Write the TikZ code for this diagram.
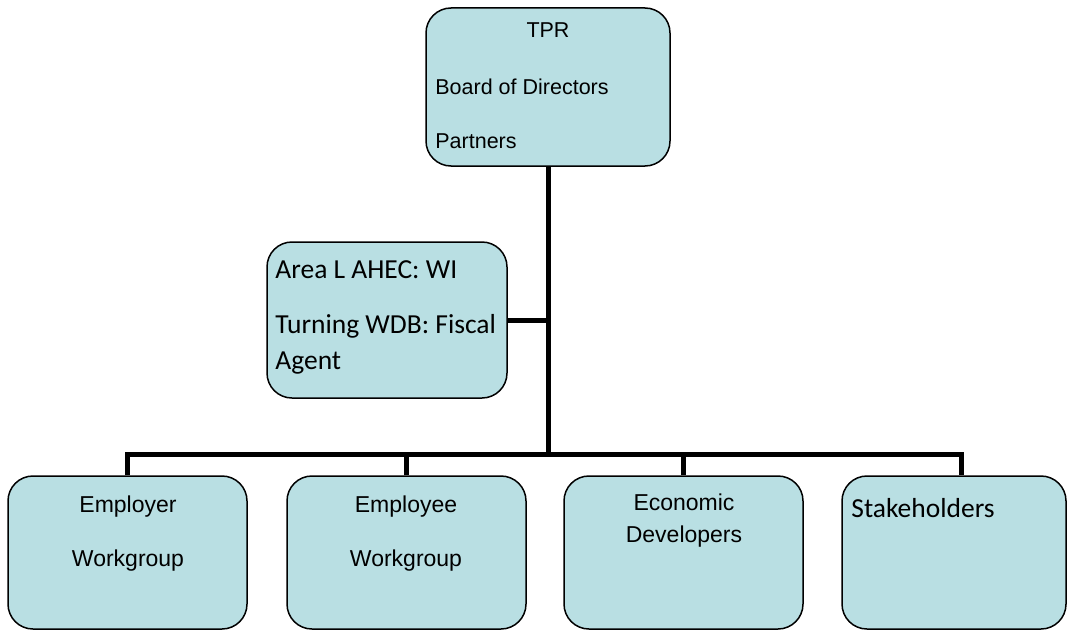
\documentclass[tikz,border=0pt]{standalone}
\usepackage{fontspec}
\setmainfont{Liberation Sans}
\newfontfamily\calibri{Carlito}
\usepackage{tikz}
\usetikzlibrary{positioning,calc}
\definecolor{boxcyan}{RGB}{185,223,227}

\begin{document}
\begin{tikzpicture}[x=0.5pt,y=-0.5pt,
          box/.style={draw,line width=0.75pt,rounded corners=12.5pt,fill=boxcyan,
                      minimum width=119.5pt,minimum height=76.5pt,inner sep=0pt},
          txt/.style={inner sep=0pt,font=\fontsize{11.5}{13}\selectfont},
          toptxt/.style={inner sep=0pt,font=\fontsize{10.75}{12}\selectfont},
          ctxt/.style={inner sep=0pt,font=\calibri\fontsize{13.75}{16}\selectfont},
          link/.style={line width=2.5pt}]
        \useasboundingbox (0,0) rectangle (1068,631);
        % boxes
        \node[box,minimum width=122pt,minimum height=79pt] (tpr) at (548,87) {};
        \node[box,minimum width=120pt,minimum height=78pt] (ahec) at (387,320) {};
        \node[box] (employer) at (127.5,552.5) {};
        \node[box] (employee) at (406.5,552.5) {};
        \node[box] (econ) at (683.5,552.5) {};
        \node[box,minimum width=112pt] (stake) at (954,552.5) {};
        % texts
        \node[toptxt,anchor=base] (tprname) at (548,38) {TPR};
        \node[toptxt,anchor=base west] (board) at (435,94) {Board of Directors};
        \node[toptxt,anchor=base west] (partners) at (435,148) {Partners};
        \node[ctxt,anchor=base west] (ahecwi) at (275,278) {Area L AHEC: WI};
        \node[ctxt,anchor=base west] (wdb) at (275,333) {Turning WDB: Fiscal};
        \node[ctxt,anchor=base west] (agent) at (275,369) {Agent};
        \node[txt,anchor=base] (emplr) at (128,512) {Employer};
        \node[txt,anchor=base] (emplrwg) at (128,566) {Workgroup};
        \node[txt,anchor=base] (emple) at (406,512) {Employee};
        \node[txt,anchor=base] (emplewg) at (406,566) {Workgroup};
        \node[txt,anchor=base] (econtop) at (684,510) {Economic};
        \node[txt,anchor=base] (econdev) at (684,542) {Developers};
        \node[ctxt,anchor=base west] (stakename) at (851,517) {Stakeholders};
        % connectors
        \coordinate (hub) at (548,454);
        \coordinate (staketop) at ([xshift=3.5pt]stake.north);
        \draw[link] (tpr.south) -- (tpr.south |- hub);
        \draw[link] (ahec.east) -- (ahec.east -| tpr.south);
        \draw[link] (employer.north) -- (employer.north |- hub)
                    -- (staketop |- hub) -- (staketop);
        \draw[link] (employee.north) -- (employee.north |- hub);
        \draw[link] (econ.north) -- (econ.north |- hub);
      \end{tikzpicture}
\end{document}
